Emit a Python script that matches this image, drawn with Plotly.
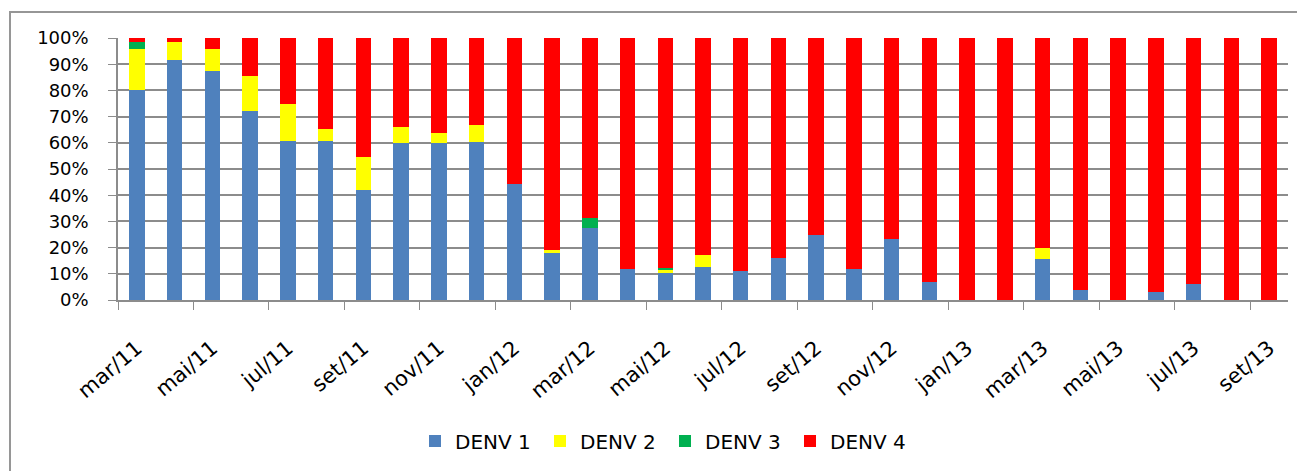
import plotly.graph_objects as go

months = ["mar/11", "abr/11", "mai/11", "jun/11", "jul/11", "ago/11", "set/11", "out/11",
          "nov/11", "dez/11", "jan/12", "fev/12", "mar/12", "abr/12", "mai/12", "jun/12",
          "jul/12", "ago/12", "set/12", "out/12", "nov/12", "dez/12", "jan/13", "fev/13",
          "mar/13", "abr/13", "mai/13", "jun/13", "jul/13", "ago/13", "set/13"]

denv1 = [80.3, 91.7, 87.5, 72.1, 60.6, 60.6, 42.1, 59.8, 59.8, 60.4, 44.3, 17.8, 27.5, 11.8,
         10.4, 12.5, 11.2, 16.0, 24.7, 11.8, 23.3, 6.9, 0.0, 0.0, 15.7, 3.7, 0.0, 2.9, 6.2, 0.0, 0.0]
denv2 = [15.4, 6.8, 8.2, 13.5, 14.2, 4.7, 12.4, 6.1, 4.1, 6.3, 0.0, 1.4, 0.0, 0.0,
         1.2, 4.7, 0.0, 0.0, 0.0, 0.0, 0.0, 0.0, 0.0, 0.0, 4.2, 0.0, 0.0, 0.0, 0.0, 0.0, 0.0]
denv3 = [2.9, 0.0, 0.0, 0.0, 0.0, 0.0, 0.0, 0.0, 0.0, 0.0, 0.0, 0.0, 3.9, 0.0,
         0.5, 0.0, 0.0, 0.0, 0.0, 0.0, 0.0, 0.0, 0.0, 0.0, 0.0, 0.0, 0.0, 0.0, 0.0, 0.0, 0.0]
denv4 = [1.4, 1.5, 4.3, 14.4, 25.2, 34.7, 45.5, 34.1, 36.1, 33.3, 55.7, 80.8, 68.6, 88.2,
         87.9, 82.8, 88.8, 84.0, 75.3, 88.2, 76.7, 93.1, 100.0, 100.0, 80.1, 96.3, 100.0, 97.1,
         93.8, 100.0, 100.0]

series = [("DENV 1", denv1, "#4F81BD"), ("DENV 2", denv2, "#FFFF00"),
          ("DENV 3", denv3, "#00B050"), ("DENV 4", denv4, "#FF0000")]

FONT = "DejaVu Sans"
GRID = "#8C8C8C"

fig = go.Figure()
for name, vals, col in series:
    fig.add_trace(go.Bar(x=months, y=vals, name=name, width=0.41,
                         marker=dict(color=col, line=dict(width=0))))

# page body has an 8px margin, so figure coords = screen coords - 8
OFF = 8
W, H = 1305 - OFF, 471 - OFF
L, R, T, B = 118 - OFF, W - (1288 - OFF), 38 - OFF, H - (300 - OFF)
pw, ph = W - L - R, H - T - B

def px(x):
    return (x - OFF - L) / pw

def py(y):
    return (H - B - (y - OFF)) / ph

fig.update_layout(
    width=W, height=H, barmode="stack",
    margin=dict(l=L, r=R, t=T, b=B, pad=0, autoexpand=False),
    paper_bgcolor="white", plot_bgcolor="white",
    font=dict(family=FONT, color="black", size=18),
    legend=dict(orientation="h", x=px(665), y=py(441), xanchor="center", yanchor="middle",
                font=dict(size=20, family=FONT), traceorder="normal", itemwidth=30,
                entrywidth=80, entrywidthmode="pixels"),
    xaxis=dict(type="category", categoryorder="array", categoryarray=months,
               range=[-0.5, 30.5], tickmode="linear", tick0=0, dtick=2,
               tickson="boundaries", ticks="outside", ticklen=8, tickcolor=GRID,
               tickangle=-40, showgrid=False, showline=True, linecolor=GRID, linewidth=1.5,
               ticklabelstandoff=26, tickfont=dict(size=21, family=FONT)),
    yaxis=dict(range=[0, 100], tickmode="linear", tick0=0, dtick=10, ticksuffix="%",
               showgrid=True, gridcolor=GRID, gridwidth=1.5, ticks="outside", ticklen=8,
               tickcolor=GRID, showline=True, linecolor=GRID, linewidth=1.5,
               ticklabelstandoff=16, tickfont=dict(size=18, family=FONT), zeroline=False),
    shapes=[dict(type="rect", xref="paper", yref="paper",
                 x0=px(10), x1=px(1320), y0=py(490), y1=py(12),
                 line=dict(color="#969696", width=2), fillcolor="rgba(0,0,0,0)", layer="below")],
)

fig.write_html("out.html")
